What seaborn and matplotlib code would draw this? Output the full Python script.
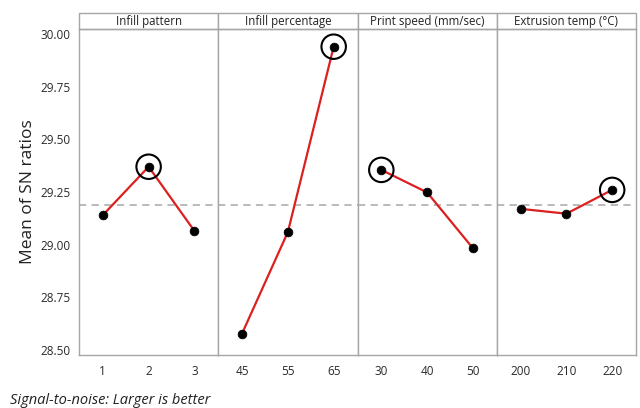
import matplotlib.pyplot as plt
import matplotlib.patches as mpatches
import seaborn as sns
import pandas as pd

# factor names and levels
factors = ['Infill pattern', 'Infill percentage', 'Print speed (mm/sec)', 'Extrusion temp (°C)']
levels = [['1', '2', '3'], ['45', '55', '65'], ['30', '40', '50'], ['200', '210', '220']]

# mean SN ratio per level
sn_pattern = [29.14, 29.37, 29.065]
sn_percentage = [28.578, 29.06, 29.94]
sn_speed = [29.355, 29.248, 28.983]
sn_temp = [29.17, 29.147, 29.26]
sn_values = [sn_pattern, sn_percentage, sn_speed, sn_temp]

grand_mean = 29.19
yticks = [28.50, 28.75, 29.00, 29.25, 29.50, 29.75, 30.00]

sns.set_style('white')
plt.rcParams['font.family'] = ['Open Sans', 'DejaVu Sans']

fig, axes = plt.subplots(1, 4, figsize=(6.4, 4.08), dpi=100, sharey=True)
fig.subplots_adjust(left=79 / 640, right=636 / 640, bottom=1 - 355 / 408,
                    top=1 - 29 / 408, wspace=0)

border = '#a6a6a6'
for ax, name, lv, vals in zip(axes, factors, levels, sn_values):
    df = pd.DataFrame({'pos': [1, 2, 3], 'SN': vals})
    ax.axhline(grand_mean, color='#b4b4b4', lw=1.3, ls=(0, (4, 3)), zorder=1)
    sns.lineplot(data=df, x='pos', y='SN', ax=ax, color='#dc1f1f', lw=1.6, zorder=2)
    sns.scatterplot(data=df, x='pos', y='SN', ax=ax, color='black', s=40,
                    edgecolor='black', zorder=3)
    # circle the best level (larger is better)
    best = df.loc[df['SN'].idxmax()]
    ax.scatter([best['pos']], [best['SN']], s=310, facecolors='none',
               edgecolors='black', linewidths=1.5, zorder=4)

    ax.set_xlim(0.48, 3.52)
    ax.set_xticks([1, 2, 3])
    ax.set_xticklabels(lv)
    ax.set_xlabel('')
    ax.set_ylabel('')
    for s in ax.spines.values():
        s.set_color(border)
        s.set_linewidth(1)
    ax.tick_params(axis='x', length=3, color=border, labelsize=8.5, labelcolor='#2a2a2a', pad=4)

    # strip header on top of each panel
    h = 16 / 326
    rect = mpatches.Rectangle((0, 1), 1, h, transform=ax.transAxes, clip_on=False,
                              facecolor='white', edgecolor=border, lw=1)
    ax.add_patch(rect)
    ax.text(0.5, 1 + h / 2, name, transform=ax.transAxes, ha='center', va='center',
            fontsize=8.3, color='#222222')

axes[0].set_ylim(28.476, 30.024)
axes[0].set_yticks(yticks)
axes[0].set_yticklabels([f'{t:.2f}' for t in yticks])
axes[0].tick_params(axis='y', length=3, color=border, labelsize=8.5, labelcolor='#2a2a2a', pad=3)
for ax in axes[1:]:
    ax.tick_params(axis='y', left=False)
axes[0].set_ylabel('Mean of SN ratios', fontsize=12.5, color='#222222', labelpad=3)

fig.text(10 / 640, 1 - 400 / 408, 'Signal-to-noise: Larger is better', style='italic',
         fontsize=10.5, color='#222222', va='center', ha='left')

plt.savefig('out.png', dpi=100)
